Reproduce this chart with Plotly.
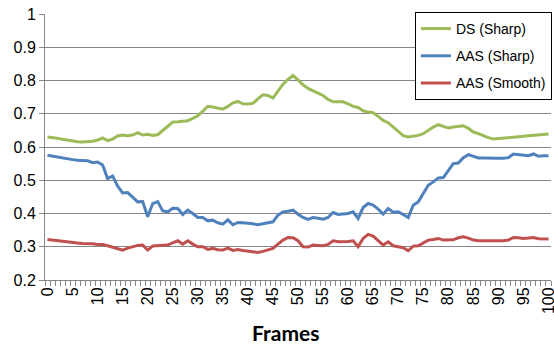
import plotly.graph_objects as go

frames = list(range(101))

ds_sharp = [
    0.630, 0.629, 0.626, 0.623, 0.620, 0.618, 0.616, 0.615, 0.615, 0.617,
    0.621, 0.627, 0.619, 0.624, 0.633, 0.636, 0.634, 0.636, 0.643, 0.636,
    0.638, 0.635, 0.637, 0.650, 0.665, 0.675, 0.676, 0.678, 0.679, 0.686,
    0.694, 0.708, 0.722, 0.720, 0.716, 0.714, 0.722, 0.733, 0.737, 0.730,
    0.729, 0.731, 0.745, 0.757, 0.755, 0.747, 0.768, 0.789, 0.803, 0.815,
    0.802, 0.787, 0.776, 0.768, 0.762, 0.755, 0.743, 0.736, 0.737, 0.736,
    0.730, 0.722, 0.719, 0.709, 0.705, 0.703, 0.692, 0.680, 0.673, 0.660,
    0.645, 0.634, 0.630, 0.632, 0.635, 0.640, 0.650, 0.660, 0.667, 0.662,
    0.657, 0.660, 0.663, 0.664, 0.656, 0.645, 0.640, 0.633, 0.628, 0.624,
    0.625, 0.626, 0.627, 0.629, 0.631, 0.632, 0.634, 0.635, 0.636, 0.637,
    0.639,
]

aas_sharp = [
    0.575, 0.572, 0.570, 0.567, 0.564, 0.562, 0.560, 0.559, 0.559, 0.553,
    0.555, 0.546, 0.505, 0.513, 0.482, 0.462, 0.463, 0.449, 0.435, 0.436,
    0.390, 0.430, 0.436, 0.408, 0.405, 0.416, 0.415, 0.397, 0.410, 0.400,
    0.388, 0.388, 0.378, 0.380, 0.372, 0.368, 0.381, 0.366, 0.373, 0.372,
    0.371, 0.369, 0.366, 0.369, 0.370, 0.375, 0.395, 0.405, 0.407, 0.410,
    0.398, 0.388, 0.382, 0.388, 0.386, 0.383, 0.388, 0.403, 0.397, 0.399,
    0.400, 0.405, 0.385, 0.418, 0.430, 0.425, 0.413, 0.398, 0.415, 0.404,
    0.405, 0.397, 0.388, 0.425, 0.435, 0.460, 0.485, 0.495, 0.507, 0.508,
    0.530, 0.550, 0.552, 0.568, 0.577, 0.572, 0.567, 0.567, 0.566, 0.565,
    0.566, 0.566, 0.568, 0.579, 0.577, 0.574, 0.574, 0.579, 0.572, 0.574,
    0.574,
]

aas_smooth = [
    0.322, 0.320, 0.318, 0.315, 0.313, 0.312, 0.311, 0.310, 0.310, 0.309,
    0.307, 0.307, 0.303, 0.298, 0.293, 0.290, 0.296, 0.300, 0.304, 0.305,
    0.290, 0.302, 0.303, 0.303, 0.305, 0.312, 0.318, 0.308, 0.318, 0.308,
    0.300, 0.300, 0.292, 0.295, 0.291, 0.290, 0.296, 0.289, 0.292, 0.289,
    0.287, 0.285, 0.283, 0.286, 0.290, 0.295, 0.308, 0.320, 0.328, 0.327,
    0.318, 0.300, 0.299, 0.305, 0.304, 0.303, 0.307, 0.318, 0.315, 0.315,
    0.316, 0.318, 0.300, 0.325, 0.337, 0.332, 0.318, 0.305, 0.315, 0.303,
    0.300, 0.297, 0.288, 0.302, 0.303, 0.312, 0.320, 0.322, 0.325, 0.320,
    0.320, 0.321, 0.327, 0.330, 0.326, 0.320, 0.318, 0.318, 0.317, 0.317,
    0.318, 0.318, 0.320, 0.328, 0.327, 0.325, 0.326, 0.328, 0.324, 0.323,
    0.323,
]

x_tick_vals = list(range(0, 101, 5))
x_tick_text = [str(v) for v in x_tick_vals]

series = [
    ("DS (Sharp)", ds_sharp, "#9BBB59"),
    ("AAS (Sharp)", aas_sharp, "#4F81BD"),
    ("AAS (Smooth)", aas_smooth, "#C0504D"),
]

fig = go.Figure()
for name, vals, color in series:
    fig.add_trace(go.Scatter(
        x=frames, y=vals, mode="lines", name=name, legendgroup=name,
        line=dict(color=color, width=3),
    ))

font_family = "Liberation Sans, Arial, sans-serif"

fig.update_layout(
    width=554, height=347,
    margin=dict(l=45, r=3, t=14, b=67, autoexpand=False),
    paper_bgcolor="white", plot_bgcolor="white",
    font=dict(family=font_family, size=16, color="black"),
    showlegend=True,
    legend=dict(
        x=0.731, y=1.0075, xanchor="left", yanchor="top",
        bgcolor="white", bordercolor="black", borderwidth=1,
        font=dict(family=font_family, size=14, color="black"),
        traceorder="grouped", tracegroupgap=6, itemwidth=30,
    ),
    xaxis=dict(
        range=[-0.5, 100.5],
        tickmode="array", tickvals=x_tick_vals, ticktext=x_tick_text,
        tickangle=-90, ticks="", ticklabeloverflow="allow",
        showgrid=False, zeroline=False,
        showline=True, linecolor="#868686", linewidth=1,
        tickfont=dict(size=16),
        minor=dict(tickmode="linear", tick0=-0.5, dtick=1, ticks="outside",
                   ticklen=5, tickcolor="#868686", tickwidth=1, showgrid=False),
    ),
    yaxis=dict(
        range=[0.2, 1.0], dtick=0.1, tick0=0.2,
        showgrid=True, gridcolor="#868686", gridwidth=1,
        zeroline=False, ticklabeloverflow="allow",
        showline=True, linecolor="#868686", linewidth=1,
        ticks="outside", ticklen=5, tickcolor="#868686",
        tickfont=dict(size=16),
    ),
    annotations=[dict(
        text="<b>Frames</b>", x=0.476, y=-0.199, xref="paper", yref="paper",
        xanchor="center", yanchor="middle", showarrow=False,
        font=dict(family="Lato, Carlito, sans-serif", size=21, color="black"),
    )],
)

fig.write_html(
    "out.html",
    config={"displayModeBar": False},
    post_script="document.body.style.margin='0';document.body.style.overflow='hidden';",
)
